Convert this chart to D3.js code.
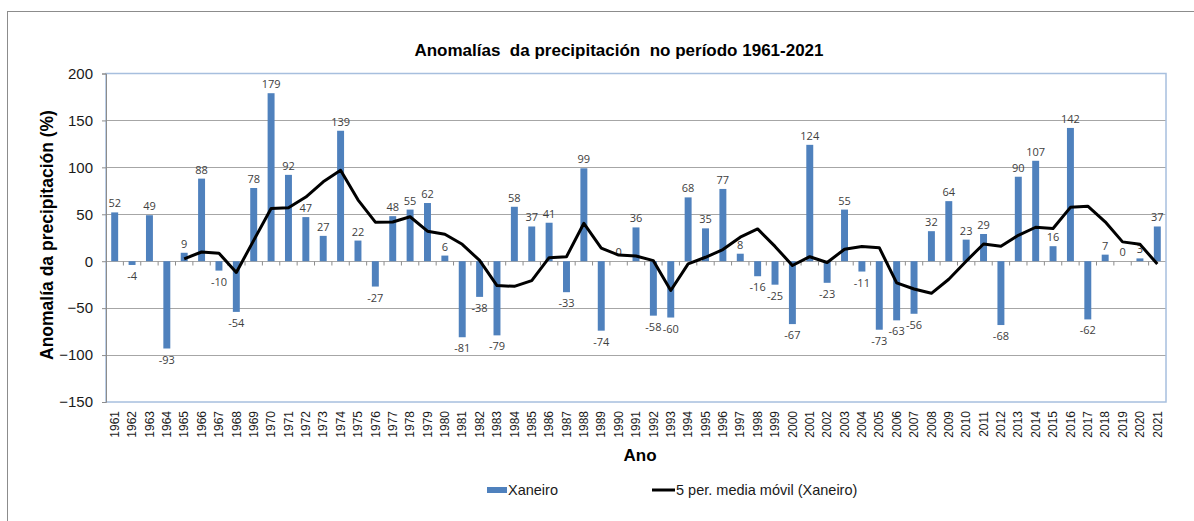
<!DOCTYPE html>
<html>
<head>
<meta charset="utf-8">
<script src="https://cdn.jsdelivr.net/npm/d3@7"></script>
<style>
  body { margin: 0; background: #fff; }
  svg { display: block; }
</style>
</head>
<body>
<svg id="chart" width="1194" height="521"></svg>
<script>
const years = d3.range(1961, 2022).map(String);
const anomalies = [52, -4, 49, -93, 9, 88, -10, -54, 78, 179,
  92, 47, 27, 139, 22, -27, 48, 55, 62, 6,
  -81, -38, -79, 58, 37, 41, -33, 99, -74, 0,
  36, -58, -60, 68, 35, 77, 8, -16, -25, -67,
  124, -23, 55, -11, -73, -63, -56, 32, 64, 23,
  29, -68, 90, 107, 16, 142, -62, 7, 0, 3, 37];
// 5-period moving average (starts at 1965)
const movingAvgYears = d3.range(1965, 2022).map(String);
const movingAvg = [2.6, 9.8, 8.6, -12, 22.2, 56.2, 57, 68.4, 84.6, 96.8,
  65.4, 41.6, 41.8, 47.4, 32, 28.8, 18, 0.8, -26, -26.8,
  -20.6, 3.8, 4.8, 40.4, 14, 6.6, 5.6, 0.6, -31.2, -2.8,
  4.2, 12.4, 25.6, 34.4, 15.8, -4.6, 4.8, -1.4, 12.8, 15.6,
  14.4, -23, -29.6, -34.2, -19.2, 0, 18.4, 16, 27.6, 36.2,
  34.8, 57.4, 58.6, 42, 20.6, 18, -3];
const yTicks = [200, 150, 100, 50, 0, -50, -100, -150];

const bars = years.map((yr, i) => ({ year: yr, value: anomalies[i] }));

const svg = d3.select("#chart");
const font = "'Liberation Sans', Arial, sans-serif";

// outer frame
svg.append("rect").attr("x", 7.5).attr("y", 11.5).attr("width", 1200).attr("height", 520)
  .attr("fill", "#fff").attr("stroke", "#8c8c8c").attr("stroke-width", 1);

const L = 106, R = 1166, T = 73.5, B = 402;
const x = d3.scaleBand().domain(years).range([L, R]).paddingInner(0.6).paddingOuter(0.3);
const xOuter = d3.scaleBand().domain(years).range([L, R]);
const y = d3.scaleLinear().domain([-150, 200]).range([B, T]);

// gridlines
svg.append("g").selectAll("line").data(yTicks.filter(d => d > -150 && d < 200)).join("line")
  .attr("x1", L).attr("x2", R).attr("y1", d => Math.round(y(d)) + 0.5).attr("y2", d => Math.round(y(d)) + 0.5)
  .attr("stroke", "#a6a6a6").attr("stroke-width", 1);

// plot border
svg.append("rect").attr("x", L).attr("y", T).attr("width", R - L).attr("height", B - T)
  .attr("fill", "none").attr("stroke", "#a7bfde").attr("stroke-width", 1.5);

// y axis
const yAxis = d3.axisLeft(y).tickValues(yTicks).tickSize(4).tickPadding(9).tickFormat(d3.format("d"));
const gy = svg.append("g").attr("transform", `translate(${L},0)`).call(yAxis);
gy.select(".domain").attr("stroke", "#8c8c8c");
gy.selectAll(".tick line").attr("stroke", "#8c8c8c");
gy.selectAll(".tick text").attr("font-family", font).attr("font-size", 15).attr("fill", "#1a1a1a");

// zero-line category ticks
const zeroY = Math.round(y(0)) + 0.5;
svg.append("g").selectAll("line").data(years.slice(1)).join("line")
  .attr("x1", d => xOuter(d)).attr("x2", d => xOuter(d))
  .attr("y1", zeroY).attr("y2", zeroY + 4)
  .attr("stroke", "#8c8c8c");

// x axis labels (at bottom)
const xAxis = d3.axisBottom(xOuter).tickSize(0).tickPadding(0);
const gx = svg.append("g").attr("transform", `translate(0,${B})`).call(xAxis);
gx.select(".domain").remove();
gx.selectAll(".tick text")
  .attr("font-family", font).attr("font-size", 12).attr("fill", "#1a1a1a")
  .attr("transform", "rotate(-90)")
  .attr("text-anchor", "end")
  .attr("x", -9).attr("y", 0).attr("dy", "0.35em");

// bars
svg.append("g").selectAll("rect").data(bars).join("rect")
  .attr("x", d => x(d.year))
  .attr("width", x.bandwidth())
  .attr("y", d => y(Math.max(0, d.value)))
  .attr("height", d => Math.abs(y(d.value) - y(0)))
  .attr("fill", "#4f81bd");

// data labels
svg.append("g").selectAll("text").data(bars).join("text")
  .attr("x", d => x(d.year) + x.bandwidth() / 2)
  .attr("y", d => d.value >= 0 ? y(d.value) - 5 : y(d.value) + 15)
  .attr("text-anchor", "middle")
  .attr("font-family", "'Open Sans', 'Liberation Sans', sans-serif")
  .attr("font-size", 11).attr("fill", "#404040")
  .text(d => d.value);

// moving average line
const line = d3.line()
  .x((d, i) => xOuter(movingAvgYears[i]) + xOuter.bandwidth() / 2)
  .y(d => y(d));
svg.append("path").datum(movingAvg).attr("d", line)
  .attr("fill", "none").attr("stroke", "#000").attr("stroke-width", 3).attr("stroke-linejoin", "round");

// title
svg.append("text").attr("x", 619).attr("y", 56).attr("text-anchor", "middle")
  .attr("font-family", font).attr("font-weight", "bold").attr("font-size", 17).attr("fill", "#000")
  .attr("xml:space", "preserve")
  .text("Anomalías  da precipitación  no período 1961-2021");

// y axis title
svg.append("text").attr("transform", `translate(53,235) rotate(-90)`)
  .attr("text-anchor", "middle")
  .attr("font-family", font).attr("font-weight", "bold").attr("font-size", 17.5).attr("fill", "#000")
  .text("Anomalía da precipitación (%)");

// x axis title
svg.append("text").attr("x", 640).attr("y", 461).attr("text-anchor", "middle")
  .attr("font-family", font).attr("font-weight", "bold").attr("font-size", 17).attr("fill", "#000")
  .text("Ano");

// legend
const lg = svg.append("g").attr("font-family", font).attr("font-size", 14.5).attr("fill", "#1a1a1a");
lg.append("rect").attr("x", 487).attr("y", 487).attr("width", 20).attr("height", 6).attr("fill", "#4f81bd");
lg.append("text").attr("x", 508).attr("y", 495).text("Xaneiro");
lg.append("line").attr("x1", 652).attr("x2", 675).attr("y1", 490).attr("y2", 490)
  .attr("stroke", "#000").attr("stroke-width", 3);
lg.append("text").attr("x", 676).attr("y", 495).text("5 per. media móvil (Xaneiro)");
</script>
</body>
</html>
